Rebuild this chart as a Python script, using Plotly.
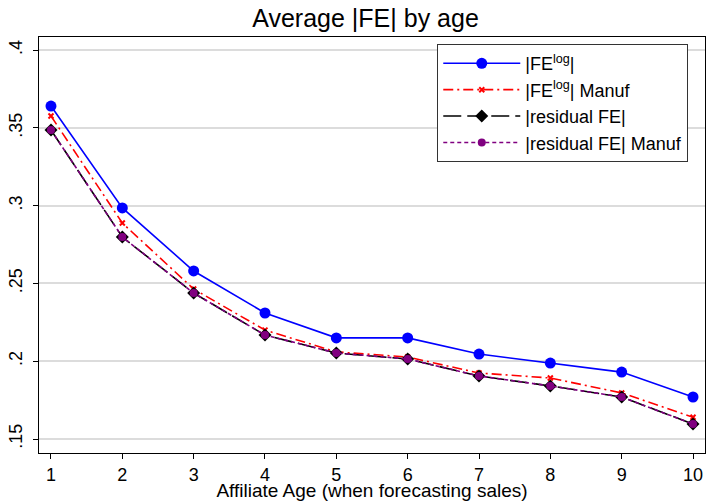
import plotly.graph_objects as go

age = [1, 2, 3, 4, 5, 6, 7, 8, 9, 10]
fe_log = [0.364, 0.2985, 0.258, 0.231, 0.215, 0.215, 0.2046, 0.1988, 0.193, 0.177]
fe_log_manuf = [0.3576, 0.2888, 0.2464, 0.220, 0.206, 0.2027, 0.1924, 0.1892, 0.1796, 0.164]
resid_fe = [0.3486, 0.2798, 0.2438, 0.2168, 0.2053, 0.2014, 0.1905, 0.1841, 0.177, 0.1596]
resid_fe_manuf = [0.3486, 0.2798, 0.2438, 0.2168, 0.2053, 0.2014, 0.1905, 0.1841, 0.177, 0.1596]

y_ticks = [0.15, 0.2, 0.25, 0.3, 0.35, 0.4]
y_ticktext = [".15", ".2", ".25", ".3", ".35", ".4"]

FONT = "Liberation Sans, Arial, sans-serif"

fig = go.Figure()
fig.add_trace(go.Scatter(x=age, y=fe_log, mode="lines+markers", name="|FE<sup>log</sup>|",
                         line=dict(color="#0000ff", width=1.6),
                         marker=dict(symbol="circle", size=11, color="#0000ff")))
fig.add_trace(go.Scatter(x=age, y=fe_log_manuf, mode="lines+markers", name="|FE<sup>log</sup>| Manuf",
                         line=dict(color="#ff0000", width=1.6, dash="10px,4px,2px,4px"),
                         marker=dict(symbol="x-thin", size=5, color="#ff0000",
                                     line=dict(color="#ff0000", width=2))))
fig.add_trace(go.Scatter(x=age, y=resid_fe, mode="lines+markers", name="|residual FE|",
                         line=dict(color="#000000", width=1.6, dash="18px,6px"),
                         marker=dict(symbol="diamond", size=10, color="#000000")))
fig.add_trace(go.Scatter(x=age, y=resid_fe_manuf, mode="lines+markers", name="|residual FE| Manuf",
                         line=dict(color="#800080", width=1.6, dash="4px,3px"),
                         marker=dict(symbol="circle", size=8, color="#800080")))

fig.update_layout(
    width=707, height=501,
    margin=dict(l=39, r=2, t=37, b=48, autoexpand=False),
    paper_bgcolor="white", plot_bgcolor="white",
    font=dict(family=FONT, size=18, color="black"),
    title=dict(text="Average |FE| by age", x=0.517, xanchor="center", y=0.964, yanchor="middle",
               font=dict(size=25, color="black")),
    showlegend=True,
    legend=dict(x=0.598, y=0.983, xanchor="left", yanchor="top",
                bgcolor="white", bordercolor="#333333", borderwidth=1,
                font=dict(size=18), tracegroupgap=0, itemwidth=77),
    xaxis=dict(range=[0.832, 10.168], tickmode="array", tickvals=age,
               ticks="outside", ticklen=5, tickcolor="black",
               showline=True, linecolor="black", linewidth=1, mirror=True,
               showgrid=False, zeroline=False, tickfont=dict(size=18),
               title=dict(text="Affiliate Age (when forecasting sales)", standoff=0,
                          font=dict(size=19))),
    yaxis=dict(range=[0.141, 0.4084], tickmode="array", tickvals=y_ticks, ticktext=y_ticktext,
               tickangle=-90, ticks="outside", ticklen=5, tickcolor="black",
               ticklabelstandoff=4, tickfont=dict(size=18),
               showline=True, linecolor="black", linewidth=1, mirror=True,
               showgrid=True, gridcolor="#dcdcdc", gridwidth=1.5, zeroline=False),
)

fig.write_html("out.html", config={"displayModeBar": False},
               post_script="document.body.style.margin='0';document.body.style.overflow='hidden';")
